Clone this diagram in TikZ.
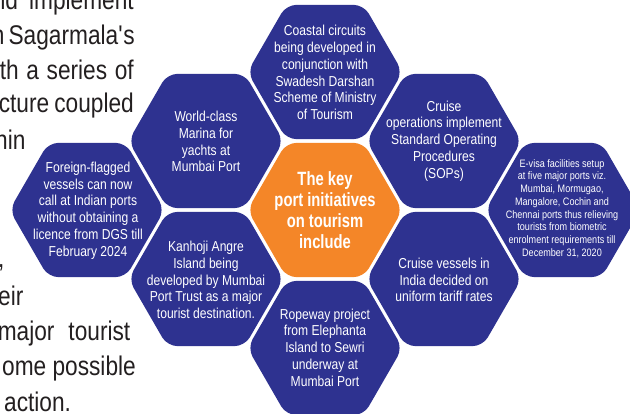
\documentclass[tikz,border=0pt]{standalone}
\usepackage{fontspec}
\setmainfont{Liberation Sans}[FakeStretch=0.84, BoldFeatures={FakeStretch=0.77}]
\definecolor{navy}{RGB}{46,50,144}
\definecolor{hexorange}{RGB}{244,134,40}
\definecolor{bodyink}{RGB}{35,31,32}
\newcommand\hexcell[3]{%
  \coordinate (#1) at #2;
  \fill[#3, rounded corners=10pt]
    ([shift={(#1)}]90:67.1) -- ([shift={(#1)}]120:77.5) -- ([shift={(#1)}]180:77.5)
    -- ([shift={(#1)}]240:77.5) -- ([shift={(#1)}]300:77.5) -- ([shift={(#1)}]0:77.5)
    -- ([shift={(#1)}]60:77.5) -- cycle;}
\tikzset{
  hextext/.style={text=white, align=center, inner sep=0pt, font=\fontsize{14.4}{16.8}\selectfont},
  smalltext/.style={text=white, align=center, inner sep=0pt, font=\fontsize{10.8}{12.7}\selectfont},
  keytext/.style={text=white, align=center, inner sep=0pt, font=\bfseries\fontsize{19.2}{21.2}\selectfont},
  bodytxt/.style={text=bodyink, inner sep=0pt, font=\fontsize{27}{35}\selectfont}
}
\begin{document}
\begin{tikzpicture}[x=1pt,y=-1pt]
\useasboundingbox (0,0) rectangle (630,414);
\clip (0,0) rectangle (630,414);
% body text
\node[bodytxt, anchor=base east] (b1) at (134,10) {\makebox[141pt][s]{nd implement}};
\node[bodytxt, anchor=base east] (b2) at (134,45) {\makebox[142pt][s]{n Sagarmala\textquotesingle s}};
\node[bodytxt, anchor=base east] (b3) at (134,80) {\makebox[134pt][s]{th a series of}};
\node[bodytxt, anchor=base east] (b4) at (134,113) {\makebox[135pt][s]{cture coupled}};
\node[bodytxt, anchor=base west] (b5) at (-5,150) {hin};
\node[bodytxt, anchor=base west] (b6) at (-2,268) {,};
\node[bodytxt, anchor=base west] (b7) at (-2,306) {eir};
\node[bodytxt, anchor=base east] (b8) at (135,341) {\makebox[137pt][s]{major\hspace{14pt}tourist}};
\node[bodytxt, anchor=base west] (b9) at (2,376) {ome possible};
\node[bodytxt, anchor=base west] (b10) at (4,411) {action.};
% hexagons
\hexcell{hc}{(325,210)}{hexorange}
\hexcell{hn}{(325,72)}{navy}
\hexcell{hnw}{(206,141)}{navy}
\hexcell{hne}{(444,141)}{navy}
\hexcell{hsw}{(206,279)}{navy}
\hexcell{hse}{(444,279)}{navy}
\hexcell{hs}{(325,348)}{navy}
\hexcell{hw}{(87,210)}{navy}
\hexcell{he}{(563,210)}{navy}
% texts
\node[keytext] (tc) at (325,210) {The key\\port initiatives\\on tourism\\include};
\node[hextext] (tn) at (325,72.5) {Coastal circuits\\being developed in\\conjunction with\\Swadesh Darshan\\Scheme of Ministry\\of Tourism};
\node[hextext] (tnw) at (206,141.5) {World-class\\Marina for\\yachts at\\Mumbai Port};
\node[hextext] (tne) at (444,141) {Cruise\\operations implement\\Standard Operating\\Procedures\\(SOPs)};
\node[hextext] (tsw) at (206,280) {Kanhoji Angre\\Island being\\developed by Mumbai\\Port Trust as a major\\tourist destination.};
\node[hextext] (tse) at (444,280) {Cruise vessels in\\India decided on\\uniform tariff rates};
\node[hextext] (ts) at (325,347.5) {Ropeway project\\from Elephanta\\Island to Sewri\\underway at\\Mumbai Port};
\node[hextext] (tw) at (88,210.5) {Foreign-flagged\\vessels can now\\call at Indian ports\\without obtaining a\\licence from DGS till\\February 2024};
\node[smalltext] (te) at (562,208.5) {E-visa facilities setup\\at five major ports viz.\\Mumbai, Mormugao,\\Mangalore, Cochin and\\Chennai ports thus relieving\\tourists from biometric\\enrolment requirements till\\December 31, 2020};
\end{tikzpicture}
\end{document}
